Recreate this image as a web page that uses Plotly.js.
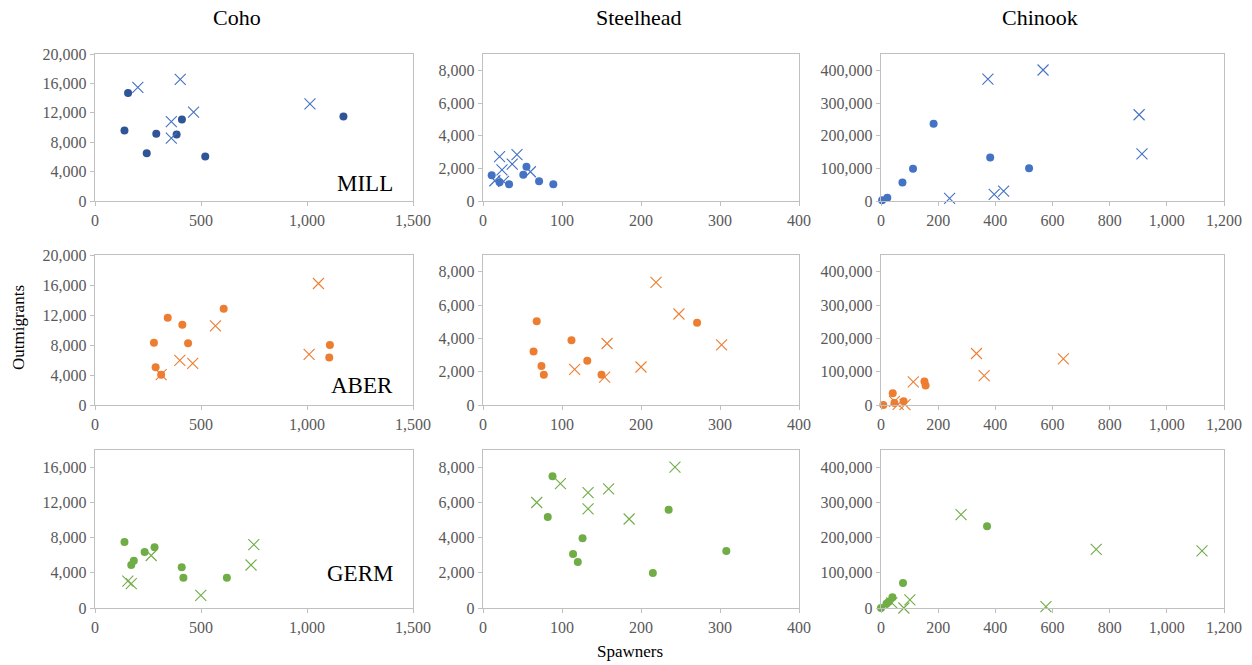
<!DOCTYPE html>
<html><head><meta charset="utf-8">
<script src="https://cdn.plot.ly/plotly-3.0.1.min.js"></script>
<style>html,body{margin:0;padding:0;background:#fff}#chart{width:1252px;height:665px}</style>
</head><body><div id="chart"></div>
<script>
// Column (species) and row (site) labels
const species = ["Coho", "Steelhead", "Chinook"];
const sites = ["MILL", "ABER", "GERM"];
const siteColors = ["#4472C4", "#ED7D31", "#70AD47"];
const dotColors = ["#2F5597", "#4472C4", "#4472C4"];

// MILL
const millCohoDotX = [139, 156, 244, 289, 385, 410, 520, 1172];
const millCohoDotY = [9600, 14700, 6500, 9150, 9050, 11100, 6050, 11500];
const millCohoCrossX = [202, 402, 360, 360, 465, 1014];
const millCohoCrossY = [15450, 16550, 10800, 8550, 12100, 13200];
const millSteelDotX = [11, 21, 33, 55, 51, 71, 89];
const millSteelDotY = [1580, 1150, 1030, 2100, 1600, 1210, 1030];
const millSteelCrossX = [15, 21, 24, 37, 43, 60, 26];
const millSteelCrossY = [1240, 2720, 1910, 2260, 2840, 1790, 1200];
const millChinDotX = [4, 22, 75, 112, 184, 382, 518];
const millChinDotY = [2000, 10000, 57000, 98500, 236500, 133000, 100500];
const millChinCrossX = [374, 567, 240, 396, 429, 903, 913];
const millChinCrossY = [373000, 401000, 8000, 20000, 30500, 264000, 144000];

// ABER
const aberCohoDotX = [278, 286, 312, 343, 412, 439, 607, 1108, 1105];
const aberCohoDotY = [8300, 5050, 4050, 11650, 10700, 8250, 12850, 8000, 6350];
const aberCohoCrossX = [312, 400, 461, 568, 1010, 1054];
const aberCohoCrossY = [4050, 5950, 5550, 10550, 6750, 16200];
const aberSteelDotX = [68, 64, 74, 77, 112, 132, 150, 271];
const aberSteelDotY = [5020, 3210, 2340, 1820, 3890, 2660, 1820, 4940];
const aberSteelCrossX = [116, 154, 157, 200, 219, 248, 302];
const aberSteelCrossY = [2140, 1670, 3690, 2280, 7360, 5460, 3610];
const aberChinDotX = [8, 41, 47, 79, 152, 156];
const aberChinDotY = [0, 35600, 6000, 11000, 70300, 58400];
const aberChinCrossX = [47, 84, 60, 113, 334, 361, 638];
const aberChinCrossY = [11000, 1000, 2000, 69300, 154500, 88000, 138600];

// GERM
const germCohoDotX = [139, 171, 183, 234, 281, 409, 417, 622];
const germCohoDotY = [7530, 4900, 5370, 6370, 6910, 4630, 3440, 3440];
const germCohoCrossX = [155, 171, 265, 499, 736, 749];
const germCohoCrossY = [3050, 2780, 5980, 1430, 4900, 7220];
const germSteelDotX = [88, 82, 114, 120, 126, 215, 235, 308];
const germSteelDotY = [7510, 5180, 3080, 2620, 3970, 1990, 5590, 3240];
const germSteelCrossX = [68, 98, 133, 133, 159, 185, 243];
const germSteelCrossY = [6010, 7090, 6570, 5650, 6780, 5070, 8030];
const germChinDotX = [0, 19, 27, 40, 77, 371];
const germChinDotY = [0, 12000, 17600, 30500, 71300, 233000];
const germChinCrossX = [38, 80, 101, 280, 577, 753, 1123];
const germChinCrossY = [14800, 0, 23000, 266000, 3700, 166700, 163000];

const panels = [
  [ [millCohoDotX, millCohoDotY, millCohoCrossX, millCohoCrossY],
    [millSteelDotX, millSteelDotY, millSteelCrossX, millSteelCrossY],
    [millChinDotX, millChinDotY, millChinCrossX, millChinCrossY] ],
  [ [aberCohoDotX, aberCohoDotY, aberCohoCrossX, aberCohoCrossY],
    [aberSteelDotX, aberSteelDotY, aberSteelCrossX, aberSteelCrossY],
    [aberChinDotX, aberChinDotY, aberChinCrossX, aberChinCrossY] ],
  [ [germCohoDotX, germCohoDotY, germCohoCrossX, germCohoCrossY],
    [germSteelDotX, germSteelDotY, germSteelCrossX, germSteelCrossY],
    [germChinDotX, germChinDotY, germChinCrossX, germChinCrossY] ]
];

// Axis specs per column, y max per row/col
const xSpec = [ {max:1500, dtick:500}, {max:400, dtick:100}, {max:1200, dtick:200} ];
const ySpec = [
  [ {max:20000, dtick:4000}, {max:9000, dtick:2000}, {max:450000, dtick:100000} ],
  [ {max:20000, dtick:4000}, {max:9000, dtick:2000}, {max:450000, dtick:100000} ],
  [ {max:18000, dtick:4000}, {max:9000, dtick:2000}, {max:450000, dtick:100000} ]
];

const W = 1252, H = 665;
const colPx = [[95, 413], [483, 799], [881, 1224]];
const rowPx = [[54, 201], [255, 405], [450, 608]];

const FONT = "Liberation Serif";
const traces = [];
const layout = {
  width: W, height: H, margin: {l:0, r:0, t:0, b:0},
  paper_bgcolor: "#fff", plot_bgcolor: "#fff", showlegend: false,
  font: {family: FONT, color: "#595959", size: 13},
  annotations: []
};

for (let r = 0; r < 3; r++) {
  for (let c = 0; c < 3; c++) {
    const n = r * 3 + c + 1;
    const xa = "x" + (n > 1 ? n : "");
    const ya = "y" + (n > 1 ? n : "");
    const d = panels[r][c];
    traces.push({type:"scatter", mode:"markers", x:d[0], y:d[1], xaxis:xa, yaxis:ya,
      marker:{symbol:"circle", size:8, color: r === 0 ? dotColors[c] : siteColors[r]}, cliponaxis:false});
    traces.push({type:"scatter", mode:"markers", x:d[2], y:d[3], xaxis:xa, yaxis:ya,
      marker:{symbol:"x-thin-open", size:11, color:siteColors[r], line:{color:siteColors[r], width:1.1}}, cliponaxis:false});
    const axCommon = {showgrid:false, zeroline:false, showline:true, mirror:true,
      linecolor:"#C0C0C0", linewidth:1.3, ticks:"outside", ticklen:4, tickcolor:"#C0C0C0",
      tickfont:{family:FONT, size:16, color:"#595959"}, tickformat:",d", fixedrange:true};
    layout["xaxis" + (n > 1 ? n : "")] = Object.assign({}, axCommon, {
      domain:[colPx[c][0] / W, colPx[c][1] / W], anchor: ya,
      range:[0, xSpec[c].max], tick0:0, dtick:xSpec[c].dtick});
    layout["yaxis" + (n > 1 ? n : "")] = Object.assign({}, axCommon, {
      domain:[1 - rowPx[r][1] / H, 1 - rowPx[r][0] / H], anchor: xa,
      range:[0, ySpec[r][c].max], tick0:0, dtick:ySpec[r][c].dtick});
  }
}

// Column titles
const colTitleX = [237, 639, 1040];
for (let c = 0; c < 3; c++) {
  layout.annotations.push({text:species[c], xref:"paper", yref:"paper", x:colTitleX[c] / W, y:1 - 17 / H,
    showarrow:false, font:{family:FONT, size:22, color:"#000"}, xanchor:"center", yanchor:"middle"});
}
// Site labels inside Coho panels
const siteY = [184, 385, 573];
for (let r = 0; r < 3; r++) {
  layout.annotations.push({text:sites[r], xref:"paper", yref:"paper", x:395 / W, y:1 - siteY[r] / H,
    showarrow:false, font:{family:FONT, size:23, color:"#000"}, xanchor:"right", yanchor:"middle"});
}
layout.annotations.push({text:"Outmigrants", xref:"paper", yref:"paper", x:18 / W, y:1 - 328 / H,
  showarrow:false, textangle:-90, font:{family:FONT, size:17, color:"#000"}, xanchor:"center", yanchor:"middle"});
layout.annotations.push({text:"Spawners", xref:"paper", yref:"paper", x:630 / W, y:1 - 651 / H,
  showarrow:false, font:{family:FONT, size:17, color:"#000"}, xanchor:"center", yanchor:"middle"});

Plotly.newPlot("chart", traces, layout, {staticPlot:true, displayModeBar:false});
</script></body></html>
